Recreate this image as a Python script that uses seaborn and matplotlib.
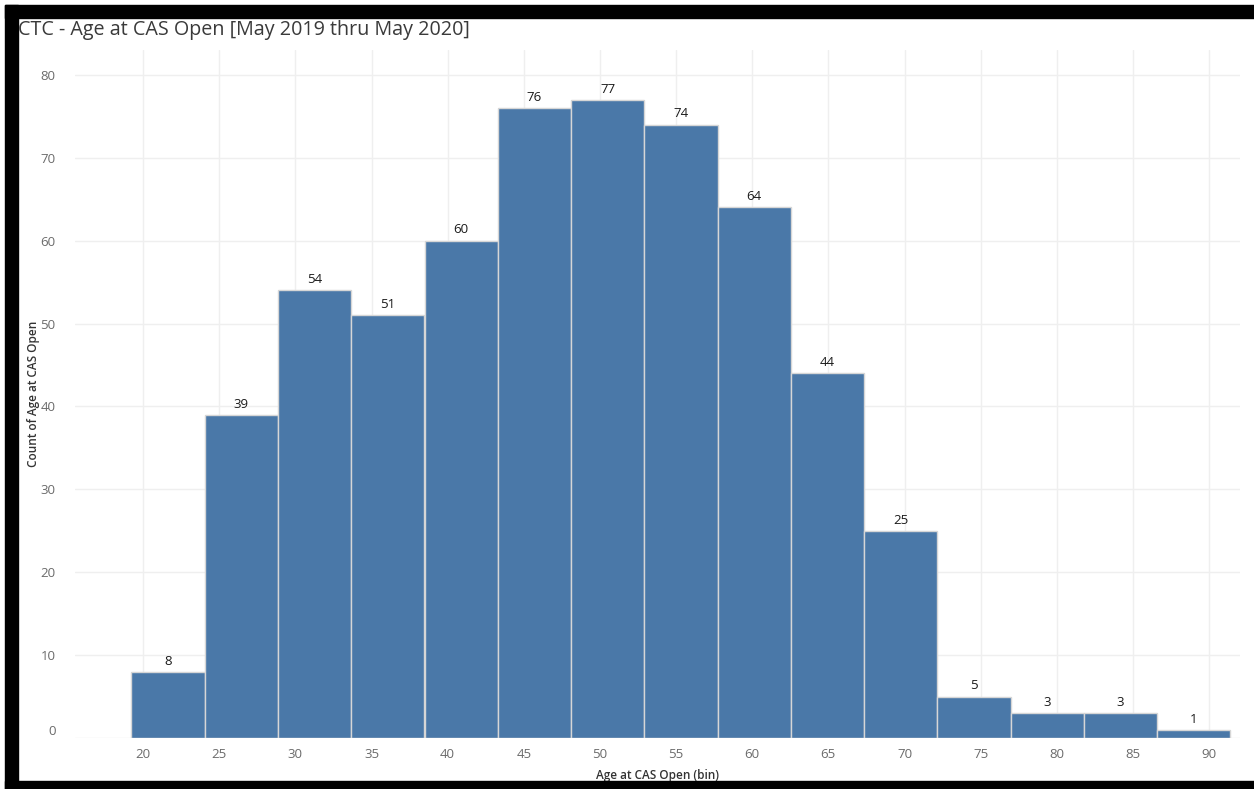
import numpy as np
import pandas as pd
import matplotlib
matplotlib.use("Agg")
import matplotlib.pyplot as plt
import seaborn as sns
from matplotlib.patches import Rectangle

# Histogram of age at CAS open, bin size 4.81 (bins 4..18)
bin_size = 4.81
bin_index = [4, 5, 6, 7, 8, 9, 10, 11, 12, 13, 14, 15, 16, 17, 18]
counts = [8, 39, 54, 51, 60, 76, 77, 74, 64, 44, 25, 5, 3, 3, 1]
x_ticks = [20, 25, 30, 35, 40, 45, 50, 55, 60, 65, 70, 75, 80, 85, 90]
y_ticks = [0, 10, 20, 30, 40, 50, 60, 70, 80]

df = pd.DataFrame({
    "start": [i * bin_size for i in bin_index],
    "count": counts,
})
df["mid"] = df["start"] + bin_size / 2
edges = [i * bin_size for i in bin_index] + [(bin_index[-1] + 1) * bin_size]

sns.set_theme(style="white")
plt.rcParams["font.family"] = ["Open Sans", "DejaVu Sans"]

fig = plt.figure(figsize=(12.54, 7.89), dpi=100)
W, H = 1254, 789
ax = fig.add_axes([75 / W, 1 - 738 / H, (1240 - 75) / W, (738 - 50) / H])

sns.histplot(data=df, x="mid", weights="count", bins=edges, ax=ax,
             color="#4a78a8", alpha=1, edgecolor="#d6d6d6", linewidth=1,
             zorder=3)

for s, c in zip(df["mid"], df["count"]):
    ax.annotate(str(c), (s, c), xytext=(0, 3), textcoords="offset points",
                ha="center", va="bottom", fontsize=9.5, color="#1a1a1a",
                zorder=4)

ax.set_xlim(15.53, 92.03)
ax.set_ylim(0, 83)
ax.set_xticks(x_ticks)
ax.set_yticks(y_ticks)
ax.grid(True, color="#efefef", linewidth=1, zorder=0)
ax.set_axisbelow(True)
for sp in ax.spines.values():
    sp.set_visible(False)
ax.tick_params(axis="both", length=0, labelsize=9.5, labelcolor="#6b6b6b")
ax.tick_params(axis="x", pad=7)
ax.tick_params(axis="y", pad=14)
# keep the zero label slightly inside the plot
for lbl in ax.get_yticklabels():
    if lbl.get_text() == "0":
        lbl.set_va("bottom")

ax.set_xlabel("Age at CAS Open (bin)", fontsize=8.5, color="#333333",
              fontweight="semibold")
ax.set_ylabel("Count of Age at CAS Open", fontsize=8.5, color="#333333",
              fontweight="semibold")
ax.xaxis.set_label_coords(0.5, -(775 - 738) / 688)
ax.yaxis.set_label_coords((34 - 75) / 1165, 0.5)
ax.xaxis.label.set_va("center")
ax.yaxis.label.set_va("center")

fig.text(18 / W, 1 - 30 / H, "CTC - Age at CAS Open [May 2019 thru May 2020]",
         ha="left", va="center", fontsize=14.2, color="#3a3a3a")

# black frame bands
for (x0, y0, w, h) in [(5, 5, W - 5, 13), (5, 5, 13, H - 5), (5, 781, W - 5, 8)]:
    fig.patches.append(Rectangle((x0 / W, 1 - (y0 + h) / H), w / W, h / H,
                                 transform=fig.transFigure, color="black",
                                 zorder=10))

fig.savefig("out.png", dpi=100)
